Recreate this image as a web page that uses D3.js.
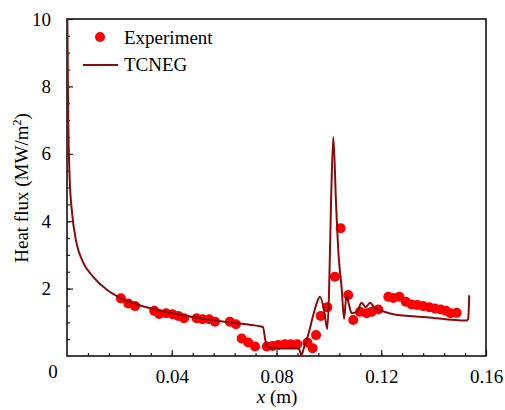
<!DOCTYPE html>
<html>
<head>
<meta charset="utf-8">
<style>
  body { margin: 0; background: #fff; }
  text { font-family: "Liberation Serif", "Times New Roman", serif; fill: #000; }
</style>
</head>
<body>
<svg id="chart" width="505" height="410"></svg>
<script src="https://cdn.jsdelivr.net/npm/d3@7"></script>
<script>
  // TCNEG simulation line (x in m, heat flux in MW/m2)
  const lineX = [0.0001, 0.0004, 0.001, 0.002, 0.0035, 0.006, 0.01, 0.015, 0.0202, 0.028, 0.0355,
                 0.0508, 0.062, 0.0737, 0.0748, 0.0758, 0.0768, 0.08, 0.085, 0.0885, 0.0895, 0.0905,
                 0.092, 0.094, 0.0955, 0.0966, 0.0982, 0.0994, 0.1001, 0.1009, 0.1017, 0.1027, 0.1037,
                 0.1049, 0.1058, 0.1067, 0.1076, 0.1087, 0.1107, 0.1125, 0.1141, 0.1157, 0.1176,
                 0.1188, 0.1209, 0.1246, 0.1374, 0.1526, 0.1532, 0.1536];
  const lineY = [10.3, 7.5, 5.3, 4.2, 3.4, 2.8, 2.35, 1.98, 1.73, 1.5, 1.35,
                 1.12, 1.0, 0.88, 0.86, 0.45, 0.26, 0.23, 0.22, 0.22, 0.03, 0.25,
                 0.6, 1.2, 1.6, 1.76, 1.35, 0.8, 2.0, 4.8, 6.5, 4.6, 3.0,
                 2.0, 1.1, 1.8, 1.55, 1.27, 1.31, 1.58, 1.45, 1.58, 1.42,
                 1.38, 1.32, 1.24, 1.15, 1.05, 1.1, 1.8];

  // experimental points
  const expX = [0.0206, 0.0234, 0.026, 0.0333, 0.0352, 0.0378, 0.0403, 0.0425, 0.0447, 0.0495,
                0.0518, 0.0543, 0.0565, 0.0622, 0.0645, 0.0667, 0.0692, 0.0718, 0.0763, 0.0785,
                0.0807, 0.0832, 0.0854, 0.0879, 0.0918, 0.0938, 0.0951, 0.0969, 0.0994, 0.1023,
                0.1045, 0.1074, 0.1093, 0.1119, 0.1144, 0.1163, 0.1189, 0.1227, 0.1246, 0.1269,
                0.1294, 0.1316, 0.1338, 0.136, 0.1383, 0.1405, 0.1427, 0.1447, 0.1465, 0.1488];
  const expY = [1.71, 1.56, 1.48, 1.34, 1.25, 1.27, 1.24, 1.19, 1.12, 1.12,
                1.09, 1.09, 1.02, 1.02, 0.94, 0.52, 0.4, 0.28, 0.28, 0.3,
                0.33, 0.35, 0.35, 0.35, 0.4, 0.23, 0.62, 1.19, 1.45, 2.35,
                3.79, 1.81, 1.07, 1.31, 1.27, 1.31, 1.38, 1.76, 1.72, 1.76,
                1.61, 1.53, 1.51, 1.48, 1.45, 1.41, 1.38, 1.34, 1.27, 1.28];

  const xMajor = [0.04, 0.08, 0.12, 0.16];
  const yMajor = [2, 4, 6, 8, 10];

  const lineColor = "#8b0a0a",
        dotColor = "#ff0000";

  const margin = {top: 19, right: 19, bottom: 54, left: 67},
        W = 505, H = 410,
        width = W - margin.left - margin.right,
        height = H - margin.top - margin.bottom;

  const svg = d3.select("#chart");

  const x = d3.scaleLinear().domain([0, 0.16]).range([margin.left, margin.left + width]);
  const y = d3.scaleLinear().domain([0, 10]).range([margin.top + height, margin.top]);

  svg.append("clipPath").attr("id", "clip")
    .append("rect")
      .attr("x", margin.left).attr("y", margin.top)
      .attr("width", width).attr("height", height);

  // minor ticks (inward)
  const xMinor = d3.range(1, 20).map(i => i * 0.008);
  const yMinor = d3.range(1, 20).map(i => i * 0.5);

  svg.append("g")
    .attr("transform", `translate(0, ${margin.top + height})`)
    .call(d3.axisBottom(x).tickValues(xMinor).tickSize(-3).tickFormat(""))
    .call(g => g.select(".domain").remove());
  svg.append("g")
    .attr("transform", `translate(${margin.left}, 0)`)
    .call(d3.axisLeft(y).tickValues(yMinor).tickSize(-3).tickFormat(""))
    .call(g => g.select(".domain").remove());

  // major ticks + labels
  const xAxis = svg.append("g")
    .attr("transform", `translate(0, ${margin.top + height})`)
    .call(d3.axisBottom(x).tickValues(xMajor).tickSize(-6).tickPadding(14).tickFormat(d3.format(".2f")))
    .call(g => g.select(".domain").remove());
  xAxis.selectAll("text").attr("font-size", 19).attr("font-family", null);
  const yAxis = svg.append("g")
    .attr("transform", `translate(${margin.left}, 0)`)
    .call(d3.axisLeft(y).tickValues(yMajor).tickSize(-6).tickPadding(16).tickFormat(d3.format("d")))
    .call(g => g.select(".domain").remove());
  yAxis.selectAll("text").attr("font-size", 19).attr("font-family", null);
  svg.selectAll(".tick line").attr("stroke", "#222").attr("stroke-width", 1.2);

  // origin label
  svg.append("text")
    .attr("x", 53).attr("y", 378)
    .attr("text-anchor", "middle")
    .attr("font-size", 19)
    .text("0");

  // frame
  svg.append("rect")
    .attr("x", margin.left).attr("y", margin.top)
    .attr("width", width).attr("height", height)
    .attr("fill", "none")
    .attr("stroke", "#111")
    .attr("stroke-width", 1.6);

  // data
  const line = d3.line()
    .x((d, i) => x(lineX[i]))
    .y((d, i) => y(lineY[i]))
    .curve(d3.curveMonotoneX);

  svg.append("g")
    .attr("clip-path", "url(#clip)")
    .selectAll("circle")
    .data(expX)
    .join("circle")
      .attr("cx", d => x(d))
      .attr("cy", (d, i) => y(expY[i]))
      .attr("r", 5)
      .attr("fill", dotColor);

  svg.append("path")
    .datum(lineX)
    .attr("clip-path", "url(#clip)")
    .attr("fill", "none")
    .attr("stroke", lineColor)
    .attr("stroke-width", 2)
    .attr("d", line);

  // legend
  svg.append("circle")
    .attr("cx", 100).attr("cy", 37).attr("r", 5)
    .attr("fill", dotColor);
  svg.append("text")
    .attr("x", 124).attr("y", 44)
    .attr("font-size", 19)
    .text("Experiment");
  svg.append("line")
    .attr("x1", 83).attr("x2", 118)
    .attr("y1", 65).attr("y2", 65)
    .attr("stroke", lineColor)
    .attr("stroke-width", 2);
  svg.append("text")
    .attr("x", 124).attr("y", 71)
    .attr("font-size", 19)
    .text("TCNEG");

  // axis titles
  const xt = svg.append("text")
    .attr("x", 277).attr("y", 403)
    .attr("text-anchor", "middle")
    .attr("font-size", 19);
  xt.append("tspan").attr("font-style", "italic").text("x");
  xt.append("tspan").text(" (m)");

  const yt = svg.append("text")
    .attr("transform", "translate(28, 188) rotate(-90)")
    .attr("text-anchor", "middle")
    .attr("font-size", 19);
  yt.append("tspan").text("Heat flux (MW/m");
  yt.append("tspan").attr("font-size", 12).attr("dy", -7).text("2");
  yt.append("tspan").attr("dy", 7).text(")");
</script>
</body>
</html>
